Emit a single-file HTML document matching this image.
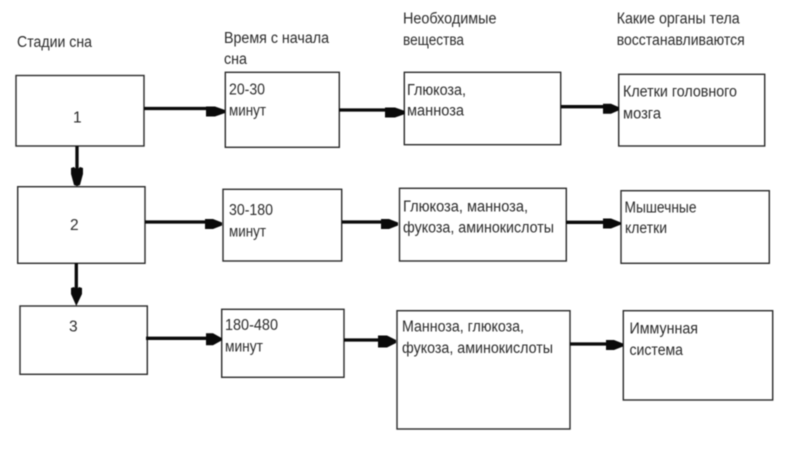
<!DOCTYPE html>
<html><head><meta charset="utf-8">
<style>
html,body{margin:0;padding:0;background:#fff;width:800px;height:450px;overflow:hidden}
svg{display:block;filter:blur(0.45px)}
text{font-family:"Liberation Sans",sans-serif;font-size:15.5px;fill:#2a2a2a}
rect{fill:#fff;stroke:#2a2a2a;stroke-width:1.4}
.a{stroke:#0a0a0a;stroke-width:3.3;fill:none}
.h{fill:#0a0a0a;stroke:none}
</style></head><body>
<svg width="800" height="450" viewBox="0 0 800 450">
<rect x="16" y="75.5" width="128" height="70.5"/>
<rect x="17.7" y="186.7" width="127.3" height="76.6"/>
<rect x="20" y="306" width="127.3" height="68.3"/>
<rect x="225.3" y="72.3" width="114" height="75"/>
<rect x="223" y="189.3" width="118.7" height="71.7"/>
<rect x="221.7" y="309.3" width="122.3" height="68"/>
<rect x="404.3" y="72.3" width="156.4" height="72.4"/>
<rect x="399.5" y="188.3" width="166.8" height="72.7"/>
<rect x="397" y="310.7" width="173" height="118.3"/>
<rect x="618.7" y="74.3" width="146" height="71.7"/>
<rect x="621" y="190.7" width="148.3" height="72.6"/>
<rect x="623.3" y="310.7" width="149.4" height="89.3"/>

<path class="a" d="M144 108.5H210M339 110H388M561 106.7H605M145 222H208M342 222H384M566 222.3H604M146 338.3H208M344 340H382M570 344H607M77 146V172M76.3 263V292"/>
<path class="h" d="M225 110l-10-3.500h-9v10h9l10-3.500zM405 111l-10-3.500h-10v10h10l10-3.500zM619 107.300l-8-3.500h-8v10h8l8-3.500zM222 222.500l-9-3.500h-8v10h8l9-3.500zM398 222.500l-9-3.500h-8v10h8l9-3.500zM621 222.500l-10-4h-8v10h8l10-4zM222 338.300l-9-5h-7v12h7l9-5zM396 340l-9-4.500h-9v12h9l9-4.500zM623 343.500l-9-3.500h-8v10h8l9-3.500zM77 186l-3-1-3-11v-6l3-1 3 3 3-3 3 1v6l-3 11zM76.300 306l-5.300-12v-6l3-1 2.300 3 2.700-3 3 1v6z"/>

<text x="17" y="47" textLength="75" lengthAdjust="spacingAndGlyphs">Стадии сна</text>
<text x="224" y="43" textLength="105" lengthAdjust="spacingAndGlyphs">Время с начала</text>
<text x="224" y="64" textLength="23" lengthAdjust="spacingAndGlyphs">сна</text>
<text x="403" y="23.500" textLength="93.500" lengthAdjust="spacingAndGlyphs">Необходимые</text>
<text x="403" y="45" textLength="61" lengthAdjust="spacingAndGlyphs">вещества</text>
<text x="616.700" y="23.500" textLength="123" lengthAdjust="spacingAndGlyphs">Какие органы тела</text>
<text x="616.700" y="45" textLength="128" lengthAdjust="spacingAndGlyphs">восстанавливаются</text>

<text x="73" y="122.500">1</text>
<text x="70" y="230">2</text>
<text x="69" y="331.700">3</text>

<text x="229" y="94.500" textLength="36" lengthAdjust="spacingAndGlyphs">20-30</text>
<text x="229" y="115.700" textLength="37" lengthAdjust="spacingAndGlyphs">минут</text>
<text x="229" y="215" textLength="44" lengthAdjust="spacingAndGlyphs">30-180</text>
<text x="229" y="236.700" textLength="37" lengthAdjust="spacingAndGlyphs">минут</text>
<text x="225" y="330" textLength="53" lengthAdjust="spacingAndGlyphs">180-480</text>
<text x="225" y="351.700" textLength="38" lengthAdjust="spacingAndGlyphs">минут</text>

<text x="407" y="95" textLength="59" lengthAdjust="spacingAndGlyphs">Глюкоза,</text>
<text x="407" y="115.700" textLength="57" lengthAdjust="spacingAndGlyphs">манноза</text>
<text x="403" y="211.700" textLength="125" lengthAdjust="spacingAndGlyphs">Глюкоза, манноза,</text>
<text x="403" y="232.300" textLength="151" lengthAdjust="spacingAndGlyphs">фукоза, аминокислоты</text>
<text x="402" y="331.700" textLength="122" lengthAdjust="spacingAndGlyphs">Манноза, глюкоза,</text>
<text x="402" y="353" textLength="151" lengthAdjust="spacingAndGlyphs">фукоза, аминокислоты</text>

<text x="623" y="96.700" textLength="114" lengthAdjust="spacingAndGlyphs">Клетки головного</text>
<text x="623" y="118.300" textLength="38" lengthAdjust="spacingAndGlyphs">мозга</text>
<text x="624.500" y="212.300" textLength="72" lengthAdjust="spacingAndGlyphs">Мышечные</text>
<text x="625" y="233" textLength="42" lengthAdjust="spacingAndGlyphs">клетки</text>
<text x="629.500" y="333.300" textLength="68.500" lengthAdjust="spacingAndGlyphs">Иммунная</text>
<text x="629.500" y="355" textLength="53.500" lengthAdjust="spacingAndGlyphs">система</text>
</svg>
</body></html>
